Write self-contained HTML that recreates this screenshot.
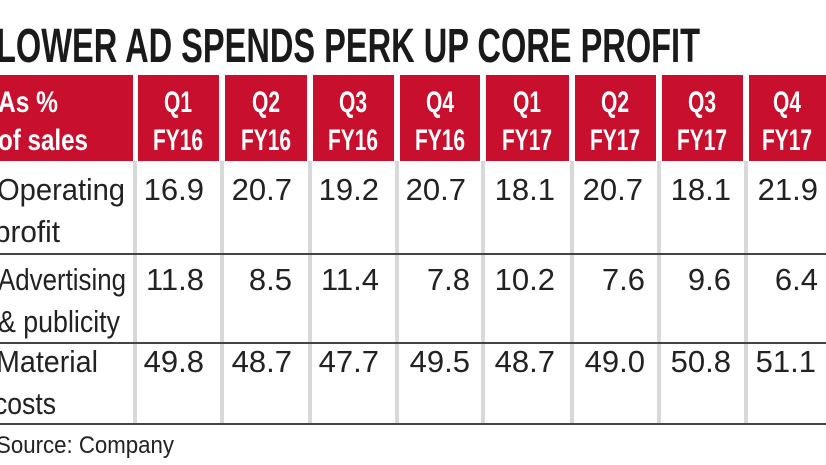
<!DOCTYPE html>
<html><head><meta charset="utf-8"><style>
html,body{margin:0;padding:0;background:#fff;width:826px;height:465px;overflow:hidden}
svg{display:block}
</style></head><body>
<svg width="826" height="465" viewBox="0 0 826 465" xmlns="http://www.w3.org/2000/svg" font-family="Liberation Sans, sans-serif">
<rect width="826" height="465" fill="#fff"/>
<text x="-4" y="62" font-size="48" font-weight="bold" fill="#1a1a1a" textLength="704" lengthAdjust="spacingAndGlyphs">LOWER AD SPENDS PERK UP CORE PROFIT</text>
<g fill="#c8102e">
<rect x="0" y="75" width="133" height="86"/>
<rect x="138" y="75" width="81" height="86"/>
<rect x="225" y="75" width="82" height="86"/>
<rect x="313" y="75" width="81" height="86"/>
<rect x="400" y="75" width="80" height="86"/>
<rect x="486" y="75" width="83" height="86"/>
<rect x="575" y="75" width="81" height="86"/>
<rect x="662" y="75" width="81" height="86"/>
<rect x="749" y="75" width="77" height="86"/>
</g>
<g fill="#fff" font-weight="bold" font-size="30">
<text x="-2" y="112" textLength="60" lengthAdjust="spacingAndGlyphs">As %</text>
<text x="-2" y="150" textLength="90" lengthAdjust="spacingAndGlyphs">of sales</text>
<g text-anchor="middle">
<text x="178" y="112" textLength="28" lengthAdjust="spacingAndGlyphs">Q1</text><text x="178" y="150" textLength="50" lengthAdjust="spacingAndGlyphs">FY16</text>
<text x="266" y="112" textLength="28" lengthAdjust="spacingAndGlyphs">Q2</text><text x="266" y="150" textLength="50" lengthAdjust="spacingAndGlyphs">FY16</text>
<text x="353" y="112" textLength="28" lengthAdjust="spacingAndGlyphs">Q3</text><text x="353" y="150" textLength="50" lengthAdjust="spacingAndGlyphs">FY16</text>
<text x="440" y="112" textLength="28" lengthAdjust="spacingAndGlyphs">Q4</text><text x="440" y="150" textLength="50" lengthAdjust="spacingAndGlyphs">FY16</text>
<text x="527" y="112" textLength="28" lengthAdjust="spacingAndGlyphs">Q1</text><text x="527" y="150" textLength="50" lengthAdjust="spacingAndGlyphs">FY17</text>
<text x="615" y="112" textLength="28" lengthAdjust="spacingAndGlyphs">Q2</text><text x="615" y="150" textLength="50" lengthAdjust="spacingAndGlyphs">FY17</text>
<text x="702" y="112" textLength="28" lengthAdjust="spacingAndGlyphs">Q3</text><text x="702" y="150" textLength="50" lengthAdjust="spacingAndGlyphs">FY17</text>
<text x="787" y="112" textLength="28" lengthAdjust="spacingAndGlyphs">Q4</text><text x="787" y="150" textLength="50" lengthAdjust="spacingAndGlyphs">FY17</text>
</g></g>
<g stroke="#d8d8d8" stroke-width="4">
<line x1="135" y1="161" x2="135" y2="424"/><line x1="222" y1="161" x2="222" y2="424"/>
<line x1="310" y1="161" x2="310" y2="424"/><line x1="397" y1="161" x2="397" y2="424"/>
<line x1="483" y1="161" x2="483" y2="424"/><line x1="572" y1="161" x2="572" y2="424"/>
<line x1="659" y1="161" x2="659" y2="424"/><line x1="746" y1="161" x2="746" y2="424"/>
</g>
<g stroke="#444" stroke-width="2">
<line x1="0" y1="254" x2="826" y2="254"/><line x1="0" y1="343" x2="826" y2="343"/><line x1="0" y1="424" x2="826" y2="424"/>
</g>
<g fill="#222" font-size="31">
<text x="-3" y="200" textLength="128" lengthAdjust="spacingAndGlyphs">Operating</text>
<text x="-6" y="242" textLength="66" lengthAdjust="spacingAndGlyphs">profit</text>
<text x="-2" y="290" textLength="128" lengthAdjust="spacingAndGlyphs">Advertising</text>
<text x="-2" y="332" textLength="122" lengthAdjust="spacingAndGlyphs">&amp; publicity</text>
<text x="-4" y="372" textLength="102" lengthAdjust="spacingAndGlyphs">Material</text>
<text x="-6" y="414" textLength="62" lengthAdjust="spacingAndGlyphs">costs</text>
</g>
<g fill="#222" font-size="31" text-anchor="end">
<text x="204" y="200">16.9</text><text x="292" y="200">20.7</text><text x="379" y="200">19.2</text><text x="466" y="200">20.7</text><text x="555" y="200">18.1</text><text x="643" y="200">20.7</text><text x="731" y="200">18.1</text><text x="818" y="200">21.9</text>
<text x="204" y="290">11.8</text><text x="292" y="290">8.5</text><text x="379" y="290">11.4</text><text x="470" y="290">7.8</text><text x="555" y="290">10.2</text><text x="645" y="290">7.6</text><text x="731" y="290">9.6</text><text x="818" y="290">6.4</text>
<text x="204" y="372">49.8</text><text x="292" y="372">48.7</text><text x="379" y="372">47.7</text><text x="470" y="372">49.5</text><text x="555" y="372">48.7</text><text x="645" y="372">49.0</text><text x="731" y="372">50.8</text><text x="816" y="372">51.1</text>
</g>
<text x="-4" y="453" font-size="24" fill="#222" textLength="178" lengthAdjust="spacingAndGlyphs">Source: Company</text>
</svg>
</body></html>
